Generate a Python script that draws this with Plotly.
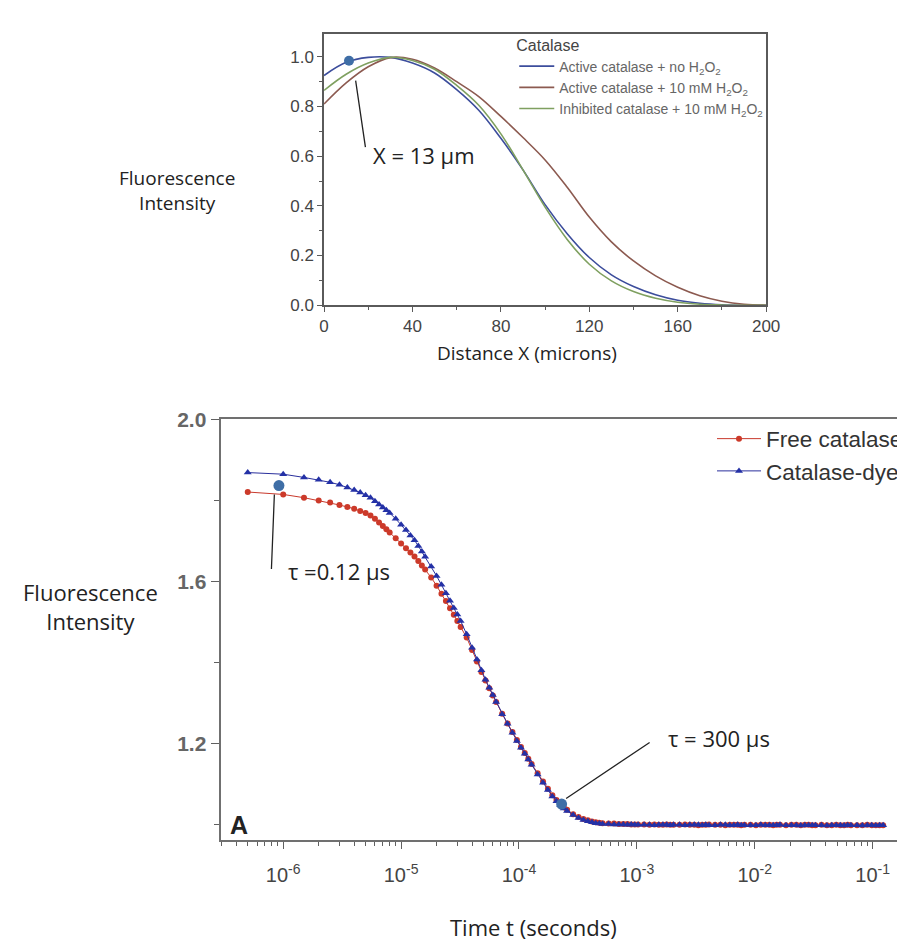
import plotly.graph_objects as go

# ---------------- top panel data (distance profiles) ----------------
dist_um = [0, 10, 20, 30, 40, 50, 60, 70, 80, 90, 100, 110, 120, 130, 140, 150, 160, 170, 180, 190, 200]
active_no_h2o2 = [0.925, 0.978, 0.998, 0.998, 0.975, 0.935, 0.868, 0.785, 0.672, 0.545, 0.405, 0.288, 0.192, 0.122, 0.075, 0.042, 0.020, 0.008, 0.002, 0.0, 0.0]
active_10mm = [0.81, 0.895, 0.960, 0.997, 0.990, 0.955, 0.900, 0.840, 0.760, 0.675, 0.585, 0.475, 0.355, 0.255, 0.178, 0.118, 0.072, 0.038, 0.016, 0.004, 0.0]
inhibited_10mm = [0.865, 0.930, 0.975, 0.998, 0.985, 0.950, 0.885, 0.805, 0.690, 0.545, 0.395, 0.265, 0.165, 0.098, 0.055, 0.028, 0.012, 0.004, 0.001, 0.0, 0.0]
top_names = ["Active catalase + no H<sub>2</sub>O<sub>2</sub>",
             "Active catalase + 10 mM H<sub>2</sub>O<sub>2</sub>",
             "Inhibited catalase + 10 mM H<sub>2</sub>O<sub>2</sub>"]
top_marker_x = [11.3]
top_marker_y = [0.984]
top_xticks = [0, 40, 80, 120, 160, 200]
top_yticks = [0.0, 0.2, 0.4, 0.6, 0.8, 1.0]
top_yticktext = ["0.0", "0.2", "0.4", "0.6", "0.8", "1.0"]

# ---------------- bottom panel data (correlation curves) ----------------
lag_us = [0.5, 1, 1.5, 2, 2.5, 3, 3.5, 4, 4.5, 5, 5.5, 6, 6.5, 7, 7.5, 8,
          9, 10, 11, 12, 13, 14, 15, 16,
          18, 20, 22, 24, 26, 28, 30, 32,
          36, 40, 44, 48, 52, 56, 60, 64,
          72, 80, 88, 96, 104, 112, 120, 128,
          144, 160, 176, 192, 208, 224, 240, 256,
          288, 320, 352, 384, 416, 448, 480, 512,
          576, 640, 704, 768, 832, 896, 960, 1024,
          1152, 1280, 1408, 1536, 1664, 1792, 1920, 2048,
          2304, 2560, 2816, 3072, 3328, 3584, 3840, 4096,
          4608, 5120, 5632, 6144, 6656, 7168, 7680, 8192,
          9216, 10240, 11264, 12288, 13312, 14336, 15360, 16384,
          18432, 20480, 22528, 24576, 26624, 28672, 30720, 32768,
          36864, 40960, 45056, 49152, 53248, 57344, 61440, 65536,
          73728, 81920, 90112, 98304, 106496, 114688, 122880]
free_catalase = [1.821, 1.815, 1.807, 1.800, 1.795, 1.789, 1.784, 1.780, 1.774, 1.769, 1.763, 1.755, 1.746, 1.737, 1.729, 1.721,
                 1.707, 1.694, 1.682, 1.672, 1.662, 1.651, 1.640, 1.630,
                 1.610, 1.590, 1.570, 1.552, 1.534, 1.518, 1.503, 1.488,
                 1.462, 1.431, 1.403, 1.377, 1.356, 1.337, 1.319, 1.303,
                 1.274, 1.250, 1.229, 1.209, 1.192, 1.177, 1.163, 1.150,
                 1.127, 1.107, 1.089, 1.073, 1.061, 1.051, 1.043, 1.037,
                 1.026, 1.019, 1.014, 1.011, 1.008, 1.006, 1.005, 1.004,
                 1.003, 1.003, 1.002, 1.002, 1.002, 1.001, 1.001, 1.001,
                 1.001, 1.000, 1.001, 1.000, 1.000, 1.001, 1.000, 1.000,
                 1.000, 1.001, 1.000, 1.000, 0.999, 1.000, 1.000, 1.001,
                 1.000, 1.000, 0.999, 1.000, 1.000, 1.000, 0.999, 1.000,
                 1.000, 0.999, 1.000, 1.000, 1.000, 0.999, 1.000, 1.000,
                 0.999, 1.000, 1.000, 0.999, 1.000, 1.000, 0.999, 0.999,
                 1.000, 0.999, 0.999, 1.000, 0.999, 0.999, 1.000, 0.999,
                 0.999, 0.999, 1.000, 0.999, 0.999, 0.999, 0.999]
catalase_dye = [1.869, 1.865, 1.857, 1.851, 1.845, 1.839, 1.832, 1.826, 1.820, 1.813, 1.807, 1.798, 1.790, 1.783, 1.776, 1.769,
                1.755, 1.740, 1.727, 1.714, 1.702, 1.688, 1.674, 1.661,
                1.637, 1.614, 1.592, 1.571, 1.553, 1.535, 1.519, 1.503,
                1.470, 1.437, 1.408, 1.381, 1.358, 1.338, 1.320, 1.303,
                1.273, 1.249, 1.227, 1.207, 1.190, 1.175, 1.161, 1.148,
                1.124, 1.104, 1.086, 1.070, 1.058, 1.048, 1.040, 1.034,
                1.024, 1.017, 1.012, 1.009, 1.006, 1.004, 1.003, 1.002,
                1.002, 1.001, 1.001, 1.001, 1.000, 1.001, 1.000, 1.000,
                1.000, 1.000, 0.999, 1.000, 1.000, 1.000, 0.999, 1.000,
                1.000, 0.999, 1.000, 1.000, 1.000, 0.999, 1.000, 0.999,
                0.999, 1.000, 1.000, 0.999, 0.999, 1.000, 0.999, 0.999,
                0.999, 0.999, 1.000, 0.999, 0.999, 0.999, 0.999, 1.000,
                0.999, 0.999, 0.999, 0.998, 0.999, 0.999, 0.999, 0.999,
                0.999, 0.998, 0.999, 0.999, 0.999, 0.998, 0.999, 0.999,
                0.999, 0.998, 0.999, 0.999, 0.998, 0.999, 0.999]
lag_s = [v * 1e-6 for v in lag_us]
bottom_marker_x = [9.2e-7, 2.3e-4]
bottom_marker_y = [1.837, 1.051]
bottom_xticks = [1e-6, 1e-5, 1e-4, 1e-3, 1e-2, 1e-1]
bottom_xticktext = ["10<sup>-6</sup>", "10<sup>-5</sup>", "10<sup>-4</sup>", "10<sup>-3</sup>", "10<sup>-2</sup>", "10<sup>-1</sup>"]
bottom_yticks = [1.2, 1.6, 2.0]
bottom_yticktext = ["1.2", "1.6", "2.0"]
bottom_yminor = [1.0, 1.4, 1.8]

W, H = 905, 944
def px(x):
    return x / W
def py(y):
    return 1 - y / H

fig = go.Figure()

top_colors = ["#3c4d9c", "#8c5a50", "#7fa060"]
for name, ys, col in zip(top_names, [active_no_h2o2, active_10mm, inhibited_10mm], top_colors):
    fig.add_trace(go.Scatter(x=dist_um, y=ys, mode="lines", name=name,
                             line=dict(color=col, width=1.6, shape="spline", smoothing=1.0),
                             xaxis="x", yaxis="y", legend="legend2", legendgroup=name))
fig.add_trace(go.Scatter(x=top_marker_x, y=top_marker_y, mode="markers", showlegend=False,
                         marker=dict(color="#3f6ea6", size=10), xaxis="x", yaxis="y"))

fig.add_trace(go.Scatter(x=lag_s, y=free_catalase, mode="lines+markers", name="Free catalase",
                         line=dict(color="#c8392c", width=1),
                         marker=dict(symbol="circle", size=6, color="#cc3a2a"),
                         xaxis="x2", yaxis="y2"))
fig.add_trace(go.Scatter(x=lag_s, y=catalase_dye, mode="lines+markers", name="Catalase-dye",
                         line=dict(color="#2a2f9c", width=1),
                         marker=dict(symbol="triangle-up", size=7, color="#2431a6"),
                         xaxis="x2", yaxis="y2"))
fig.add_trace(go.Scatter(x=bottom_marker_x, y=bottom_marker_y, mode="markers", showlegend=False,
                         marker=dict(color="#3f6ea6", size=11), xaxis="x2", yaxis="y2"))

axis_line = "#5a5a5a"
tickfont_top = dict(family="Liberation Sans, Arial", size=17, color="#444")

fig.update_layout(
    width=W, height=H, margin=dict(l=0, r=0, t=0, b=0),
    paper_bgcolor="white", plot_bgcolor="white",
    xaxis=dict(domain=[px(317.7), px(769.3)], range=[0, 200], anchor="y",
               showline=True, mirror=True, linecolor=axis_line, linewidth=1.5,
               ticks="outside", ticklen=5, tickcolor=axis_line, tickwidth=1.2,
               tickvals=top_xticks, tickfont=tickfont_top, showgrid=False, zeroline=False,
               minor=dict(dtick=20, ticks="outside", ticklen=3, tickcolor=axis_line, showgrid=False)),
    yaxis=dict(domain=[py(292), py(14)], range=[0, 1.0933], anchor="x",
               showline=True, mirror=True, linecolor=axis_line, linewidth=1.5,
               ticks="outside", ticklen=5, tickcolor=axis_line, tickwidth=1.2,
               tickvals=top_yticks, ticktext=top_yticktext, tickfont=tickfont_top,
               showgrid=False, zeroline=False,
               minor=dict(dtick=0.1, ticks="outside", ticklen=3, tickcolor=axis_line, showgrid=False)),
    xaxis2=dict(type="log", domain=[px(212), 1.0], range=[-6.5316, -0.776], anchor="y2",
                showline=True, mirror=True, linecolor="#707070", linewidth=2,
                ticks="outside", ticklen=7, tickcolor="#606060", tickwidth=1.2,
                tickvals=bottom_xticks, ticktext=bottom_xticktext, ticklabelstandoff=9,
                tickfont=dict(family="Liberation Sans, Arial", size=20, color="#444"),
                showgrid=False, zeroline=False,
                minor=dict(dtick="D1", ticks="outside", ticklen=4, tickcolor="#606060", showgrid=False)),
    yaxis2=dict(domain=[py(840), py(409)], range=[0.9614, 2.0], anchor="x2",
                showline=True, mirror=False, linecolor="#707070", linewidth=2,
                ticks="outside", ticklen=8, tickcolor="#606060", tickwidth=1.2,
                tickvals=bottom_yticks, ticktext=bottom_yticktext,
                tickfont=dict(family="Liberation Sans, Arial", size=21, color="#666", weight="bold"),
                showgrid=False, zeroline=False,
                minor=dict(tickvals=bottom_yminor, ticks="outside", ticklen=5, tickcolor="#606060", showgrid=False)),
    legend=dict(x=px(714), y=py(407), xanchor="left", yanchor="top",
                font=dict(family="Liberation Sans, Arial", size=22.5, color="#333"),
                bgcolor="rgba(0,0,0,0)", itemwidth=44, tracegroupgap=0),
    legend2=dict(x=px(512), y=py(10), xanchor="left", yanchor="top",
                 title=dict(text="Catalase", font=dict(family="Liberation Sans, Arial", size=16, color="#444")),
                 font=dict(family="Liberation Sans, Arial", size=14, color="#666"),
                 bgcolor="rgba(0,0,0,0)", itemwidth=35, tracegroupgap=0),
    showlegend=True,
)

top_label_font = dict(family="Open Sans, Noto Sans", size=19, color="#222")
label_font = dict(family="Open Sans, Noto Sans", size=22, color="#222")
note_font = dict(family="Open Sans, Noto Sans", size=22, color="#222")

def txt(s, x, y, anchor="center", font=label_font):
    return dict(text=s, x=px(x), y=py(y), xref="paper", yref="paper", xanchor=anchor,
                yanchor="middle", showarrow=False, font=font, align="center")

ann = [
    txt("Fluorescence<br>Intensity", 168, 175, font=top_label_font),
    txt("Distance X (microns)", 525, 341, font=top_label_font),
    txt("Fluorescence<br>Intensity", 79, 600),
    txt("Time t (seconds)", 532, 929),
    txt("A", 231, 824, font=dict(family="Liberation Sans, Arial", size=25, color="#222", weight="bold")),
    txt("X = 13 µm", 366, 138, anchor="left", font=note_font),
    txt("τ =0.12 µs", 279, 564, anchor="left", font=note_font),
    txt("τ = 300 µs", 667, 735, anchor="left", font=note_font),
    # leader lines
    dict(text="", x=14.3, y=0.904, xref="x", yref="y", showarrow=True, arrowhead=0,
         arrowwidth=1.3, arrowcolor="#222", ax=10, ay=68),
    dict(text="", x=-6.075, y=1.815, xref="x2", yref="y2", showarrow=True, arrowhead=0,
         arrowwidth=1.3, arrowcolor="#222", ax=-3, ay=76),
    dict(text="", x=-3.60, y=1.065, xref="x2", yref="y2", showarrow=True, arrowhead=0,
         arrowwidth=1.3, arrowcolor="#222", ax=85, ay=-57),
]
fig.update_layout(annotations=ann)

fig.write_html("out.html")
